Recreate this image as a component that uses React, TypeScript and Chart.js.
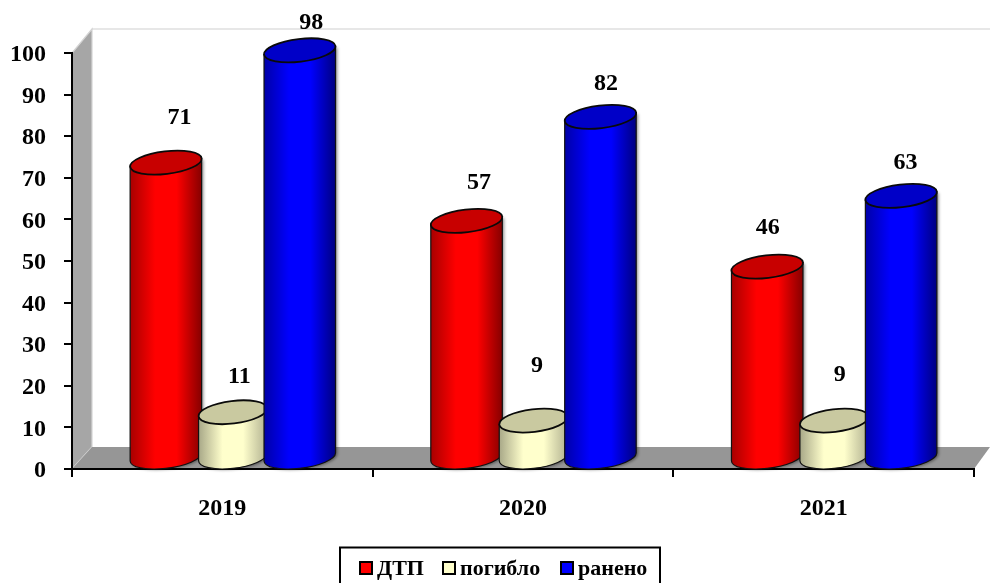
import React, { useEffect, useRef } from "react";
import { Chart, registerables } from "chart.js";

Chart.register(...registerables);

const categories = ["2019", "2020", "2021"];
const dtp = [71, 57, 46];
const killed = [11, 9, 9];
const injured = [98, 82, 63];
const seriesNames = ["ДТП", "погибло", "ранено"];
const yTickStep = 10;
const yMax = 100;

const FONT = '"Liberation Serif", "Times New Roman", serif';
const DEPTH_X = 10.5;
const DEPTH_Y = 11;

const palettes = [
  { edgeL: "#a80000", edgeR: "#860000", mid: "#ff0000", top: "#c80000", swatch: "#ff0000" },
  { edgeL: "#a8a888", edgeR: "#b0b090", mid: "#ffffcc", top: "#c9c9a0", swatch: "#ffffcc" },
  { edgeL: "#0000a8", edgeR: "#000080", mid: "#0000ff", top: "#0000c8", swatch: "#0000ff" },
];

// Offsets of the value labels from the top of each bar, as placed in the source.
const labelShift = [
  [[4, -56], [3, -49], [-9, -50]],
  [[-3, -46], [-6, -66], [-4, -57]],
  [[2, -39], [-4, -44], [-5, -44]],
];

function drawCylinders(chart: any, index: number) {
  const { ctx } = chart;
  const pal = palettes[index];
  chart.getDatasetMeta(index).data.forEach((bar: any) => {
    const p = bar.getProps(["x", "y", "base", "width"], true);
    const cx = p.x + DEPTH_X;
    const topY = p.y - DEPTH_Y;
    const botY = p.base - DEPTH_Y;
    const rot = -0.12;
    const rx = p.width / 2;
    const ry = 11.3;
    const s = Math.sin(rot);
    const c = Math.cos(rot);
    const tR = Math.atan2(-ry * s, rx * c);
    const tL = tR + Math.PI;
    const ptX = (t: number) => rx * Math.cos(t) * c - ry * Math.sin(t) * s;
    const ptY = (t: number) => rx * Math.cos(t) * s + ry * Math.sin(t) * c;
    const lx = cx + ptX(tL);
    const rxx = cx + ptX(tR);
    ctx.save();
    const g = ctx.createLinearGradient(lx, 0, rxx, 0);
    g.addColorStop(0, pal.edgeL);
    g.addColorStop(0.35, pal.mid);
    g.addColorStop(0.65, pal.mid);
    g.addColorStop(1, pal.edgeR);
    ctx.beginPath();
    ctx.moveTo(lx, topY + ptY(tL));
    ctx.lineTo(lx, botY + ptY(tL));
    ctx.ellipse(cx, botY, rx, ry, rot, tL, tR, true);
    ctx.lineTo(rxx, topY + ptY(tR));
    ctx.closePath();
    ctx.shadowColor = "rgba(0,0,0,0.4)";
    ctx.shadowBlur = 3;
    ctx.shadowOffsetX = 2;
    ctx.shadowOffsetY = 1;
    ctx.fillStyle = g;
    ctx.fill();
    ctx.shadowColor = "transparent";
    ctx.strokeStyle = "#111";
    ctx.lineWidth = 1.2;
    ctx.stroke();
    ctx.beginPath();
    ctx.ellipse(cx, topY, rx, ry, rot, 0, Math.PI * 2);
    ctx.fillStyle = pal.top;
    ctx.fill();
    ctx.strokeStyle = "#0a0a0a";
    ctx.lineWidth = 1.8;
    ctx.stroke();
    ctx.restore();
  });
}

const cylinderPlugin = {
  id: "cylinders",
  beforeDraw(chart: any) {
    const { ctx, chartArea: a } = chart;
    const dx = 20;
    const dy = 22;
    const W = chart.width;
    ctx.save();
    ctx.fillStyle = "#a6a6a6";
    ctx.beginPath();
    ctx.moveTo(a.left, a.top);
    ctx.lineTo(a.left + dx, a.top - dy - 2);
    ctx.lineTo(a.left + dx, a.bottom - dy);
    ctx.lineTo(a.left, a.bottom);
    ctx.closePath();
    ctx.fill();
    ctx.strokeStyle = "#d4d4d4";
    ctx.lineWidth = 1.2;
    ctx.stroke();
    ctx.fillStyle = "#969696";
    ctx.beginPath();
    ctx.moveTo(a.left, a.bottom);
    ctx.lineTo(a.left + dx, a.bottom - dy);
    ctx.lineTo(W, a.bottom - dy);
    ctx.lineTo(a.right, a.bottom);
    ctx.closePath();
    ctx.fill();
    ctx.strokeStyle = "#cfcfcf";
    ctx.lineWidth = 1.2;
    ctx.beginPath();
    ctx.moveTo(a.left + dx, a.top - dy - 2);
    ctx.lineTo(W, a.top - dy - 2);
    ctx.stroke();
    ctx.restore();
  },
  beforeDatasetsDraw(chart: any) {
    chart.data.datasets.forEach((_: any, i: number) => drawCylinders(chart, i));
  },
  beforeDatasetDraw() {
    return false;
  },
  afterDatasetsDraw(chart: any) {
    const { ctx } = chart;
    ctx.save();
    ctx.fillStyle = "#000";
    ctx.font = `bold 24px ${FONT}`;
    ctx.textAlign = "center";
    ctx.textBaseline = "middle";
    chart.data.datasets.forEach((ds: any, i: number) => {
      chart.getDatasetMeta(i).data.forEach((bar: any, j: number) => {
        const [sx, sy] = labelShift[i][j];
        ctx.fillText(String(ds.data[j]), bar.x + 20 + sx, bar.y + sy);
      });
    });
    ctx.strokeStyle = "#000";
    ctx.lineWidth = 2;
    ctx.strokeRect(340, 547.5, 320, 40);
    ctx.font = `bold 22px ${FONT}`;
    ctx.textAlign = "left";
    const swatchX = [360, 443, 561];
    chart.data.datasets.forEach((ds: any, i: number) => {
      ctx.fillStyle = palettes[i].swatch;
      ctx.fillRect(swatchX[i], 562, 12, 12);
      ctx.strokeRect(swatchX[i], 562, 12, 12);
      ctx.fillStyle = "#000";
      ctx.fillText(ds.label, swatchX[i] + 17, 569);
    });
    ctx.restore();
  },
};

export default function App() {
  const ref = useRef<HTMLCanvasElement>(null);
  useEffect(() => {
    const chart = new Chart(ref.current as HTMLCanvasElement, {
      type: "bar",
      data: {
        labels: categories,
        datasets: [
          { label: seriesNames[0], data: dtp, backgroundColor: palettes[0].mid, barPercentage: 1.075, categoryPercentage: 0.668 },
          { label: seriesNames[1], data: killed, backgroundColor: palettes[1].mid, barPercentage: 1.03, categoryPercentage: 0.668 },
          { label: seriesNames[2], data: injured, backgroundColor: palettes[2].mid, barPercentage: 1.075, categoryPercentage: 0.668 },
        ],
      } as any,
      options: {
        responsive: false,
        animation: false,
        layout: { padding: { top: 53, right: 16, left: 0, bottom: 0 } },
        plugins: { legend: { display: false }, title: { display: false }, tooltip: { enabled: false } },
        scales: {
          x: {
            afterFit: (s: any) => { s.height = 114; },
            grid: { drawOnChartArea: false, drawTicks: true, tickLength: 8, color: "#000", lineWidth: 2 },
            border: { color: "#000", width: 2 },
            ticks: { color: "#000", padding: 17, font: { family: FONT, size: 24, weight: "bold" } },
          },
          y: {
            min: 0,
            max: yMax,
            afterFit: (s: any) => { s.width = 72; },
            grid: { drawOnChartArea: false, drawTicks: true, tickLength: 8, color: "#000", lineWidth: 2 },
            border: { color: "#000", width: 2 },
            ticks: { stepSize: yTickStep, color: "#000", padding: 18, labelOffset: 2, font: { family: FONT, size: 24, weight: "bold" } },
          },
        },
      } as any,
      plugins: [cylinderPlugin],
    });
    return () => chart.destroy();
  }, []);
  return (
    <div style={{ position: "absolute", left: 0, top: 0, width: 990, height: 583, overflow: "hidden", background: "#fff" }}>
      <canvas ref={ref} width={990} height={583} style={{ display: "block" }} />
    </div>
  );
}
